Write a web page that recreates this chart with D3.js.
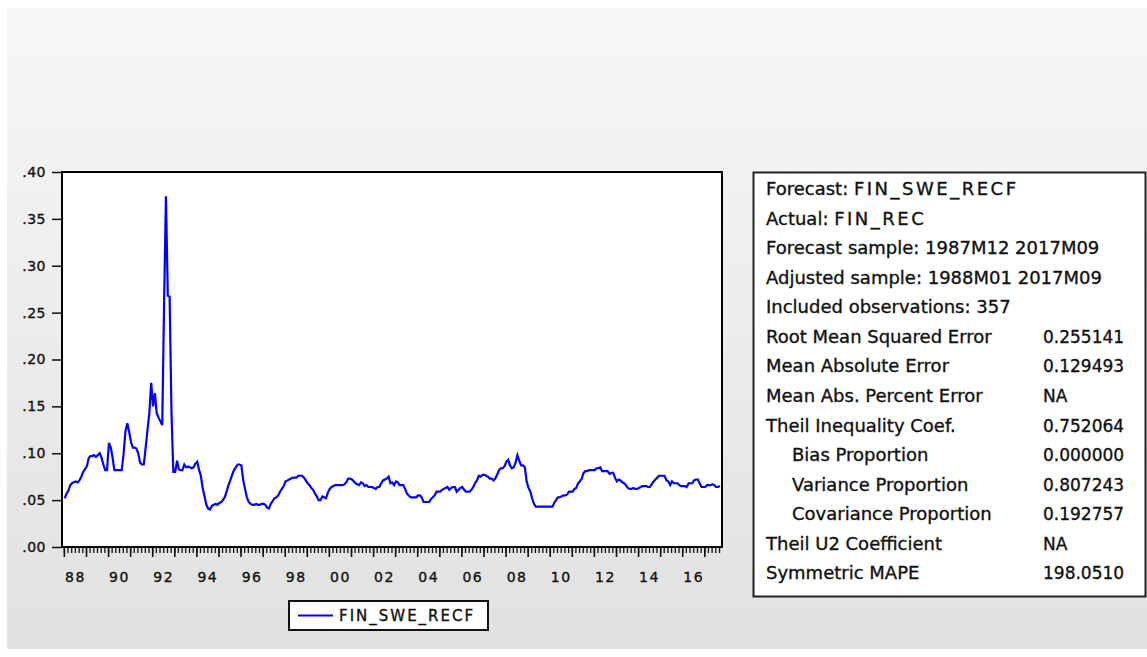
<!DOCTYPE html>
<html>
<head>
<meta charset="utf-8">
<script src="https://cdn.jsdelivr.net/npm/d3@7/dist/d3.min.js"></script>
<style>
  html, body { margin: 0; padding: 0; background: #ffffff; }
  svg { display: block; }
  text { font-family: "DejaVu Sans", "Liberation Sans", Arial, sans-serif; fill: #111; stroke: #111; stroke-width: 0.35px; }
</style>
</head>
<body>
<svg id="chart" width="1147" height="657"></svg>
<script>
// ---------------- DATA ----------------
const seriesName = "FIN_SWE_RECF";
const startYear = 1988, startMonth = 1;           // first observation 1988M01
// Monthly forecast values 1988M01 .. 2017M09 (357 obs), read from the picture
const fin_swe_recf = [
  // 1988
  0.052, 0.057, 0.060, 0.066, 0.068, 0.069, 0.070, 0.069, 0.071, 0.075, 0.080, 0.083,
  // 1989
  0.086, 0.095, 0.097, 0.097, 0.098, 0.096, 0.098, 0.100, 0.095, 0.088, 0.082, 0.082,
  // 1990
  0.111, 0.106, 0.096, 0.082, 0.082, 0.082, 0.082, 0.082, 0.100, 0.123, 0.132, 0.123,
  // 1991
  0.112, 0.106, 0.106, 0.105, 0.100, 0.090, 0.088, 0.088, 0.106, 0.125, 0.143, 0.175,
  // 1992
  0.150, 0.164, 0.143, 0.138, 0.134, 0.130, 0.258, 0.374, 0.268, 0.267, 0.143, 0.080,
  // 1993
  0.080, 0.092, 0.083, 0.082, 0.082, 0.088, 0.085, 0.086, 0.085, 0.084, 0.085, 0.089,
  // 1994
  0.091, 0.082, 0.076, 0.063, 0.054, 0.045, 0.041, 0.040, 0.044, 0.045, 0.046, 0.045,
  // 1995
  0.047, 0.048, 0.050, 0.053, 0.059, 0.066, 0.071, 0.077, 0.082, 0.085, 0.088, 0.088,
  // 1996
  0.087, 0.071, 0.062, 0.053, 0.048, 0.046, 0.045, 0.045, 0.046, 0.045, 0.045, 0.046,
  // 1997
  0.046, 0.045, 0.042, 0.041, 0.046, 0.049, 0.052, 0.053, 0.055, 0.059, 0.062, 0.065,
  // 1998
  0.070, 0.071, 0.072, 0.073, 0.074, 0.074, 0.074, 0.076, 0.076, 0.076, 0.074, 0.071,
  // 1999
  0.068, 0.066, 0.063, 0.061, 0.057, 0.054, 0.050, 0.050, 0.054, 0.053, 0.052, 0.058,
  // 2000
  0.062, 0.064, 0.065, 0.066, 0.066, 0.066, 0.066, 0.066, 0.067, 0.069, 0.073, 0.073,
  // 2001
  0.072, 0.070, 0.068, 0.067, 0.066, 0.069, 0.068, 0.065, 0.066, 0.064, 0.064, 0.064,
  // 2002
  0.063, 0.062, 0.064, 0.064, 0.068, 0.071, 0.072, 0.073, 0.075, 0.068, 0.069, 0.066,
  // 2003
  0.070, 0.069, 0.066, 0.066, 0.066, 0.062, 0.057, 0.055, 0.053, 0.053, 0.053, 0.053,
  // 2004
  0.055, 0.055, 0.053, 0.048, 0.048, 0.048, 0.048, 0.051, 0.053, 0.055, 0.059, 0.059,
  // 2005
  0.059, 0.061, 0.062, 0.063, 0.064, 0.061, 0.063, 0.064, 0.064, 0.059, 0.061, 0.063,
  // 2006
  0.064, 0.061, 0.059, 0.059, 0.059, 0.061, 0.064, 0.068, 0.071, 0.076, 0.075, 0.077,
  // 2007
  0.077, 0.076, 0.075, 0.073, 0.073, 0.071, 0.073, 0.077, 0.082, 0.084, 0.084, 0.086,
  // 2008
  0.091, 0.093, 0.087, 0.084, 0.085, 0.090, 0.098, 0.092, 0.087, 0.087, 0.085, 0.070,
  // 2009
  0.063, 0.059, 0.052, 0.046, 0.043, 0.043, 0.043, 0.043, 0.043, 0.043, 0.043, 0.043,
  // 2010
  0.043, 0.043, 0.047, 0.050, 0.053, 0.053, 0.054, 0.055, 0.055, 0.056, 0.059, 0.059,
  // 2011
  0.059, 0.062, 0.063, 0.068, 0.070, 0.073, 0.079, 0.081, 0.081, 0.082, 0.082, 0.082,
  // 2012
  0.082, 0.084, 0.084, 0.085, 0.081, 0.081, 0.081, 0.081, 0.078, 0.079, 0.079, 0.074,
  // 2013
  0.070, 0.072, 0.071, 0.069, 0.068, 0.066, 0.063, 0.062, 0.062, 0.063, 0.062, 0.062,
  // 2014
  0.063, 0.064, 0.065, 0.065, 0.065, 0.064, 0.064, 0.067, 0.070, 0.072, 0.074, 0.076,
  // 2015
  0.076, 0.076, 0.076, 0.071, 0.070, 0.066, 0.070, 0.068, 0.068, 0.068, 0.066, 0.065,
  // 2016
  0.065, 0.065, 0.064, 0.068, 0.068, 0.068, 0.071, 0.072, 0.072, 0.068, 0.064, 0.064,
  // 2017
  0.064, 0.066, 0.066, 0.066, 0.067, 0.066, 0.064, 0.064, 0.065
];
const yTickValues = [0.00, 0.05, 0.10, 0.15, 0.20, 0.25, 0.30, 0.35, 0.40];
const xLabelYears = [1988, 1990, 1992, 1994, 1996, 1998, 2000, 2002, 2004, 2006, 2008, 2010, 2012, 2014, 2016];

const statHeader = [
  ["Forecast: ", "FIN_SWE_RECF"],
  ["Actual: ", "FIN_REC"],
  ["Forecast sample: 1987M12 2017M09", ""],
  ["Adjusted sample: 1988M01 2017M09", ""],
  ["Included observations: 357", ""]
];
const statLabels = [
  "Root Mean Squared Error", "Mean Absolute Error", "Mean Abs. Percent Error",
  "Theil Inequality Coef.", "Bias Proportion", "Variance Proportion",
  "Covariance Proportion", "Theil U2 Coefficient", "Symmetric MAPE"
];
const statValues = ["0.255141", "0.129493", "NA", "0.752064", "0.000000", "0.807243", "0.192757", "NA", "198.0510"];
const statIndented = [false, false, false, false, true, true, true, false, false];

// ---------------- LAYOUT ----------------
const svg = d3.select("#chart");
const plot = { left: 62, right: 722, top: 172, bottom: 547 };

const defs = svg.append("defs");
const grad = defs.append("linearGradient").attr("id", "bg").attr("x1", 0).attr("y1", 0).attr("x2", 0).attr("y2", 1);
grad.append("stop").attr("offset", "0%").attr("stop-color", "#f7f7f7");
grad.append("stop").attr("offset", "100%").attr("stop-color", "#e1e1e1");
svg.append("rect").attr("x", 0).attr("y", 0).attr("width", 1147).attr("height", 657).attr("fill", "#ffffff");
svg.append("rect").attr("x", 7).attr("y", 8).attr("width", 1140).attr("height", 641).attr("fill", "url(#bg)");

const data = fin_swe_recf.map((v, i) => ({ date: new Date(startYear, startMonth - 1 + i, 15), value: v }));

const x = d3.scaleTime()
  .domain([new Date(1987, 11, 1), new Date(2017, 9, 20)])
  .range([plot.left, plot.right]);
const y = d3.scaleLinear().domain([0, 0.4]).range([plot.bottom, plot.top]);

// plot background
svg.append("rect")
  .attr("x", plot.left).attr("y", plot.top)
  .attr("width", plot.right - plot.left).attr("height", plot.bottom - plot.top)
  .attr("fill", "#ffffff");

// line
const line = d3.line().x(d => x(d.date)).y(d => y(d.value));
svg.append("path").datum(data)
  .attr("d", line)
  .attr("fill", "none")
  .attr("stroke", "#0000ff")
  .attr("stroke-width", 2.2)
  .attr("stroke-linejoin", "miter");

// frame
svg.append("rect")
  .attr("x", plot.left).attr("y", plot.top)
  .attr("width", plot.right - plot.left).attr("height", plot.bottom - plot.top)
  .attr("fill", "none").attr("stroke", "#000").attr("stroke-width", 2);

// y axis
const yAxis = svg.append("g").attr("transform", `translate(${plot.left},0)`)
  .call(d3.axisLeft(y).tickValues(yTickValues)
    .tickFormat(d => d3.format(".2f")(d).replace(/^0/, ""))
    .tickSize(10).tickPadding(6));
yAxis.select(".domain").remove();
yAxis.selectAll("line").attr("stroke", "#111").attr("stroke-width", 1.5);
yAxis.selectAll("text").attr("font-size", 14).attr("letter-spacing", 0.5)
  .attr("fill", "#111").attr("font-family", "DejaVu Sans, sans-serif");

// x axis minor ticks (every two months), major ticks (years), labels (mid-year)
const minorTicks = d3.timeMonth.every(2).range(new Date(1988, 0, 1), new Date(2017, 9, 2));
const yearTicks = d3.timeYear.range(new Date(1988, 0, 1), new Date(2017, 9, 2));
const gMinor = svg.append("g").attr("transform", `translate(0,${plot.bottom})`)
  .call(d3.axisBottom(x).tickValues(minorTicks).tickSize(6).tickFormat(""));
gMinor.select(".domain").remove();
gMinor.selectAll("line").attr("stroke", "#111").attr("stroke-width", 1.3);
const gMajor = svg.append("g").attr("transform", `translate(0,${plot.bottom})`)
  .call(d3.axisBottom(x).tickValues(yearTicks).tickSize(10).tickFormat(""));
gMajor.select(".domain").remove();
gMajor.selectAll("line").attr("stroke", "#111").attr("stroke-width", 1.6);
const gLab = svg.append("g").attr("transform", `translate(0,${plot.bottom})`)
  .call(d3.axisBottom(x).tickValues(xLabelYears.map(yr => new Date(yr, 6, 1)))
    .tickSize(0).tickPadding(25).tickFormat(d3.timeFormat("%y")));
gLab.select(".domain").remove();
gLab.selectAll("text").attr("font-size", 14).attr("letter-spacing", 1.5)
  .attr("fill", "#111").attr("font-family", "DejaVu Sans, sans-serif");

// legend
const lg = svg.append("g");
lg.append("rect").attr("x", 289).attr("y", 601).attr("width", 199).attr("height", 29)
  .attr("fill", "#ffffff").attr("stroke", "#111").attr("stroke-width", 2);
lg.append("line").attr("x1", 298).attr("x2", 333).attr("y1", 615.5).attr("y2", 615.5)
  .attr("stroke", "#0000ff").attr("stroke-width", 2);
lg.append("text").attr("x", 339).attr("y", 621).attr("font-size", 15)
  .attr("letter-spacing", 2).text(seriesName);

// statistics box
const sb = svg.append("g");
sb.append("rect").attr("x", 753.5).attr("y", 172.5).attr("width", 392).attr("height", 424)
  .attr("fill", "#ffffff").attr("stroke", "#222").attr("stroke-width", 2);
const rowY = i => 195 + i * 29.57;
statHeader.forEach((h, i) => {
  const t = sb.append("text").attr("x", 766).attr("y", rowY(i)).attr("font-size", 18);
  t.append("tspan").text(h[0]);
  if (h[1]) t.append("tspan").attr("letter-spacing", 2.5).text(h[1]);
});
statLabels.forEach((lab, j) => {
  const i = j + statHeader.length;
  sb.append("text").attr("x", statIndented[j] ? 792 : 766).attr("y", rowY(i))
    .attr("font-size", 18).text(lab);
  sb.append("text").attr("x", 1043).attr("y", rowY(i))
    .attr("font-size", 17).text(statValues[j]);
});
</script>
</body>
</html>
